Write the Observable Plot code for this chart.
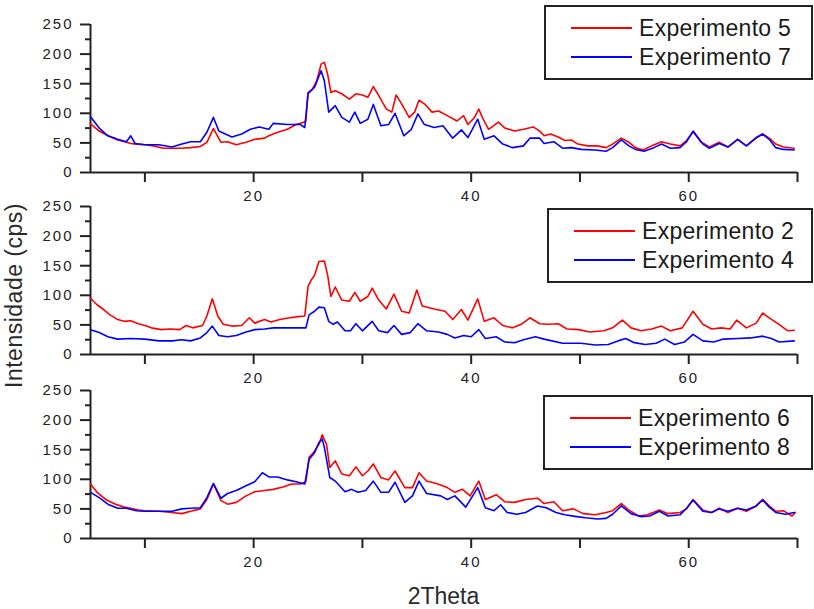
<!DOCTYPE html>
<html>
<head>
<meta charset="utf-8">
<script src="https://cdn.jsdelivr.net/npm/d3@7"></script>
<script src="https://cdn.jsdelivr.net/npm/@observablehq/plot@0.6"></script>
<style>
  body { margin: 0; background: #fff; font-family: "Liberation Sans", Arial, sans-serif; }
  #wrap { position: relative; width: 814px; height: 609px; overflow: hidden; background: #fff; }
  .panel { position: absolute; left: 0; }
  .panel svg { background: transparent !important; overflow: visible; }
  .panel svg g[aria-label$="tick label"] { font-size: 15px !important; }
  .panel svg g[aria-label$="tick label"] text { letter-spacing: 2px; font-size: 15px !important; fill: #222; }
  .legend { position: absolute; border: 2px solid #222; background: #fff; box-sizing: border-box; }
  .swatch { position: absolute; width: 61px; height: 1.6px; }
  .ltxt { position: absolute; font-size: 23px; line-height: 1; color: #1a1a1a; white-space: nowrap; letter-spacing: 0.3px; }
  #overlay { position: absolute; left: 0; top: 0; pointer-events: none; }
</style>
</head>
<body>
<div id="wrap">
  <div id="p1" class="panel" style="top:0px"></div>
  <div id="p2" class="panel" style="top:182px"></div>
  <div id="p3" class="panel" style="top:366px"></div>
  <svg id="overlay" width="814" height="609">
    <text id="ylab" transform="translate(22,295.5) rotate(-90)" text-anchor="middle" font-size="23" fill="#2a2a2a" font-family="Liberation Sans, Arial, sans-serif" letter-spacing="0.5"></text>
    <text id="xlab" x="443.5" y="603.5" text-anchor="middle" font-size="23" fill="#2a2a2a" font-family="Liberation Sans, Arial, sans-serif"></text>
  </svg>
</div>
<script>
// ---- data (2Theta, intensity in cps) ----
const xLabel = "2Theta";
const yLabel = "Intensidade (cps)";
const yMajorTicks = [0, 50, 100, 150, 200, 250];
const yMinorTicks = [25, 75, 125, 175, 225];
const xTicks = [10, 20, 30, 40, 50, 60, 70];
const xTickLabels = [20, 40, 60];
const seriesNames = ["Experimento 5", "Experimento 7", "Experimento 2", "Experimento 4", "Experimento 6", "Experimento 8"];

const exp5 = [[5.0,82],[5.8,70],[6.6,62],[7.5,55],[8.3,51],[8.7,49],[9.2,48],[10,47],[10.8,45],[11.7,41],[12.5,41],[13.4,41],[14.2,42],[15.1,44],[15.7,51],[16.3,74],[17.0,51],[17.6,52],[18.4,47],[19.3,51],[20.1,56],[21.0,58],[21.4,62],[22.2,68],[23.1,73],[23.9,81],[24.6,85],[24.8,87],[25.0,135],[25.4,141],[25.8,155],[26.2,183],[26.5,186],[26.8,166],[27.1,135],[27.5,138],[28.1,133],[28.8,124],[29.4,133],[30.0,131],[30.5,127],[31.0,145],[31.5,130],[32.2,107],[32.7,102],[33.1,131],[33.6,116],[34.3,93],[34.8,102],[35.2,122],[35.7,116],[36.4,102],[37.0,104],[37.8,96],[38.7,87],[39.3,96],[39.7,81],[40.3,93],[40.7,107],[41.1,90],[41.6,73],[42.5,85],[43.1,75],[44.0,70],[44.8,73],[45.7,77],[46.3,70],[46.7,62],[47.3,65],[48.0,60],[48.6,54],[49.2,55],[49.8,48],[50.7,45],[51.6,45],[52.4,42],[53.0,48],[53.8,58],[54.5,51],[55.1,42],[55.8,38],[56.6,45],[57.5,52],[58.3,48],[59.2,45],[59.8,54],[60.4,69],[61.1,52],[61.9,43],[62.8,51],[63.6,43],[64.5,56],[65.3,45],[66.2,58],[66.8,65],[67.4,58],[68.0,48],[68.7,43],[69.7,41]];

const exp7 = [[5.0,94],[5.8,75],[6.6,62],[7.5,56],[8.3,52],[8.7,62],[9.1,49],[10,47],[11.3,47],[12.5,43],[13.4,48],[14.2,52],[15.1,52],[15.7,68],[16.3,93],[16.8,70],[17.4,65],[18.0,60],[18.9,65],[19.7,73],[20.5,77],[21.4,73],[21.8,83],[23.1,81],[24.3,81],[24.7,76],[25.0,133],[25.6,144],[26.2,172],[26.5,155],[26.9,102],[27.5,113],[28.1,93],[28.8,85],[29.3,102],[29.8,83],[30.5,90],[31.0,115],[31.7,79],[32.4,81],[33.0,100],[33.8,62],[34.5,73],[35.1,99],[35.7,81],[36.6,76],[37.4,79],[38.3,58],[39.1,72],[39.7,59],[40.6,90],[41.2,56],[42.1,62],[42.9,48],[43.8,42],[44.8,45],[45.4,58],[46.3,58],[46.7,49],[47.6,52],[48.4,41],[49.2,42],[50.1,39],[51.4,38],[52.4,36],[53.0,42],[53.8,55],[54.5,45],[55.1,39],[55.9,36],[56.8,42],[57.5,48],[58.3,41],[59.2,42],[59.8,52],[60.4,70],[61.3,48],[61.9,41],[62.8,49],[63.6,43],[64.5,56],[65.3,45],[66.2,59],[66.8,65],[67.4,56],[68.0,42],[68.7,39],[69.7,38]];

const exp2 = [[5.0,95],[5.6,84],[6.2,76],[6.8,67],[7.5,59],[8.1,56],[8.7,57],[9.4,52],[10,49],[10.6,45],[11.5,42],[12.3,43],[13.2,42],[13.8,49],[14.4,45],[15.3,49],[15.7,65],[16.2,94],[16.7,65],[17.2,51],[18.0,48],[18.9,49],[19.6,62],[20.1,53],[21.0,59],[21.6,55],[22.4,59],[23.3,62],[24.1,64],[24.7,65],[25.0,115],[25.3,126],[25.6,134],[26.0,157],[26.5,158],[26.8,134],[27.1,98],[27.5,114],[28.1,92],[28.8,90],[29.3,105],[29.8,90],[30.5,98],[30.9,112],[31.5,92],[32.2,77],[32.9,102],[33.6,73],[34.3,70],[35.0,109],[35.5,82],[36.6,77],[37.6,73],[38.3,59],[39.1,76],[39.7,58],[40.6,94],[41.2,56],[42.1,62],[42.9,49],[43.8,45],[44.6,51],[45.4,62],[46.3,52],[47.1,51],[48.0,52],[48.8,43],[49.9,42],[50.9,38],[52.2,40],[53.0,45],[53.9,58],[54.7,45],[55.6,40],[56.6,43],[57.5,48],[58.3,40],[59.4,45],[60.4,73],[61.3,51],[62.1,43],[63.0,45],[63.8,43],[64.4,58],[65.3,45],[66.2,53],[66.8,70],[67.4,62],[68.3,51],[69.1,40],[69.7,41]];

const exp4 = [[5.0,42],[5.8,37],[6.6,30],[7.5,26],[8.7,27],[10,26],[11.3,23],[12.5,23],[13.4,25],[14.2,23],[15.1,28],[15.7,37],[16.2,48],[16.8,32],[17.6,30],[18.4,32],[19.3,38],[20.1,42],[21.0,43],[21.8,45],[23.1,45],[24.3,45],[24.8,45],[25.1,67],[25.6,73],[26.0,80],[26.5,79],[26.9,56],[27.3,51],[27.7,55],[28.4,40],[28.9,40],[29.4,52],[30.0,40],[30.9,56],[31.5,40],[32.3,37],[32.9,49],[33.6,34],[34.4,37],[35.1,52],[35.9,40],[37.0,38],[37.8,34],[38.5,28],[39.3,32],[40.0,30],[40.7,42],[41.3,27],[42.3,30],[43.1,21],[44.0,20],[44.8,25],[45.9,30],[46.7,26],[48.4,19],[50.1,19],[51.4,16],[52.6,17],[53.5,23],[54.2,27],[55.0,20],[56.0,17],[57.0,19],[57.8,26],[58.7,17],[59.6,21],[60.4,34],[61.3,23],[62.3,21],[63.2,26],[64.5,27],[65.7,28],[66.8,31],[67.6,27],[68.3,21],[69.7,23]];

const exp6 = [[5.0,92],[5.6,78],[6.4,66],[7.3,58],[8.1,53],[8.7,51],[9.4,48],[10,47],[11.3,46],[12.5,44],[13.4,42],[14.2,46],[15.1,50],[15.7,66],[16.3,92],[17.0,64],[17.6,58],[18.4,61],[19.3,72],[20.1,79],[21.0,81],[21.8,83],[22.7,87],[23.5,92],[24.3,92],[24.8,96],[25.1,137],[25.5,145],[26.0,159],[26.3,175],[26.7,159],[27.0,120],[27.5,131],[28.1,109],[28.8,106],[29.4,121],[30.0,106],[30.5,114],[31.0,126],[31.7,103],[32.4,99],[33.0,114],[33.9,86],[34.6,86],[35.2,111],[35.9,97],[36.8,93],[37.8,86],[38.5,78],[39.2,83],[39.9,72],[40.7,97],[41.3,66],[42.3,74],[43.1,62],[44.0,61],[45.0,66],[46.1,68],[46.7,59],[47.6,62],[48.4,47],[49.4,50],[50.3,42],[51.4,40],[52.4,44],[53.0,47],[53.8,59],[54.5,48],[55.4,38],[56.2,40],[57.3,48],[58.1,42],[59.2,44],[59.8,50],[60.4,66],[61.3,48],[62.1,44],[62.8,51],[63.6,44],[64.5,51],[65.3,46],[66.2,55],[66.8,66],[67.4,55],[68.0,46],[68.7,47],[69.5,38],[69.8,44]];

const exp8 = [[5.0,78],[5.8,69],[6.6,58],[7.5,51],[8.3,51],[9.2,47],[10,46],[11.3,46],[12.5,46],[13.4,50],[14.2,51],[15.1,52],[15.7,69],[16.3,93],[17.0,68],[17.6,76],[18.4,81],[19.3,89],[20.1,96],[20.8,111],[21.4,104],[22.2,104],[23.1,99],[23.9,96],[24.7,92],[25.1,134],[25.6,145],[26.0,162],[26.3,168],[26.5,154],[27.0,103],[27.5,97],[28.4,79],[29.0,83],[29.6,78],[30.3,81],[31.0,97],[31.7,78],[32.4,78],[33.0,95],[33.9,61],[34.6,72],[35.2,97],[35.9,76],[37.2,72],[37.8,66],[38.5,72],[39.5,53],[40.6,86],[41.3,52],[42.1,47],[42.7,57],[43.3,44],[44.2,41],[45.0,44],[46.1,55],[46.9,52],[47.8,44],[48.6,40],[49.7,37],[50.5,35],[51.6,33],[52.4,34],[53.0,41],[53.8,55],[54.7,42],[55.6,37],[56.4,38],[57.3,46],[58.1,38],[59.2,40],[59.8,51],[60.4,65],[61.3,46],[62.1,44],[62.8,50],[63.6,46],[64.5,51],[65.3,48],[66.2,55],[66.8,65],[67.4,53],[68.0,44],[68.9,41],[69.7,44]];

// ---- drawing ----
const RED = "#ff0000", BLUE = "#0000ff", INK = "#222";

function panel(red, blue, height) {
  const plotH = 148;
  return Plot.plot({
    width: 814,
    height: height,
    marginLeft: 90,
    marginRight: 17,
    marginTop: 24,
    marginBottom: height - 24 - plotH,
    x: { domain: [5, 70], axis: null },
    y: { domain: [0, 250], axis: null },
    style: { background: "transparent", overflow: "visible", fontFamily: "Liberation Sans, Arial, sans-serif", fontSize: "15px" },
    marks: [
      Plot.axisY(yMajorTicks, { tickSize: 10, tickPadding: 7, fontSize: 15, strokeWidth: 2, color: INK, label: null, tickFormat: d => String(d) }),
      Plot.axisY(yMinorTicks, { tickSize: 5, strokeWidth: 2, color: INK, label: null, tickFormat: () => "" }),
      Plot.axisX(xTicks, { tickSize: 10, tickPadding: 8, fontSize: 15, strokeWidth: 2, color: INK, label: null,
        tickFormat: d => xTickLabels.includes(d) ? String(d) : "" }),
      Plot.ruleX([5], { stroke: INK, strokeWidth: 2 }),
      Plot.ruleY([0], { stroke: INK, strokeWidth: 2 }),
      Plot.line(red, { x: d => d[0], y: d => d[1], stroke: RED, strokeWidth: 1.6 }),
      Plot.line(blue, { x: d => d[0], y: d => d[1], stroke: BLUE, strokeWidth: 1.6 })
    ]
  });
}

document.getElementById("p1").append(panel(exp5, exp7, 203));
document.getElementById("p2").append(panel(exp2, exp4, 203));
document.getElementById("p3").append(panel(exp6, exp8, 243));

document.getElementById("ylab").textContent = yLabel;
document.getElementById("xlab").textContent = xLabel;

// legends (HTML boxes)
function legend(left, top, names) {
  const box = document.createElement("div");
  box.className = "legend";
  Object.assign(box.style, { left: left + "px", top: top + "px", width: (814 - left - 1) + "px", height: "75px" });
  [[20, RED], [49, BLUE]].forEach(([cy, col], i) => {
    const sw = document.createElement("div");
    sw.className = "swatch";
    Object.assign(sw.style, { left: "25px", top: cy + "px", background: col });
    const tx = document.createElement("div");
    tx.className = "ltxt";
    tx.textContent = names[i];
    Object.assign(tx.style, { left: "93px", top: (cy - 10) + "px" });
    box.append(sw, tx);
  });
  document.getElementById("wrap").append(box);
}
legend(544, 5, [seriesNames[0], seriesNames[1]]);
legend(547, 208, [seriesNames[2], seriesNames[3]]);
legend(543, 395, [seriesNames[4], seriesNames[5]]);
</script>
</body>
</html>
